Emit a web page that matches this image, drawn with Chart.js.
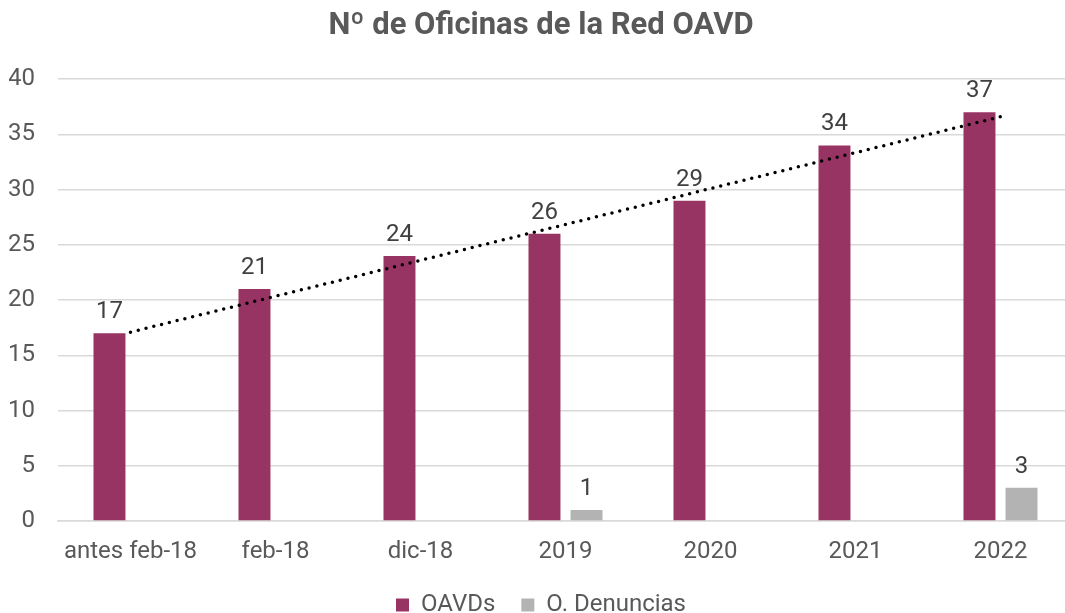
<!DOCTYPE html>
<html>
<head>
<meta charset="utf-8">
<script src="https://cdn.jsdelivr.net/npm/chart.js@4/dist/chart.umd.min.js"></script>
<style>
  html, body { margin: 0; padding: 0; background: #fff; overflow: hidden; }
  #wrap { width: 1073px; height: 613px; }
</style>
</head>
<body>
<div id="wrap"><canvas id="chart"></canvas></div>
<script>
const categories = ["antes feb-18", "feb-18", "dic-18", "2019", "2020", "2021", "2022"];
const oavds = [17, 21, 24, 26, 29, 34, 37];
const denuncias = [null, null, null, 1, null, null, 3];
// linea de tendencia (extremos)
const tendencia = [17.1, null, null, null, null, null, 36.6];

const textGrey = "#595959";

// etiquetas de valor encima de las barras
const valueLabels = {
  id: "valueLabels",
  afterDatasetsDraw(chart) {
    const ctx = chart.ctx;
    ctx.save();
    ctx.font = "24px Roboto";
    ctx.fillStyle = "#404040";
    ctx.textAlign = "center";
    ctx.textBaseline = "bottom";
    chart.data.datasets.forEach((ds, i) => {
      if (ds.type === "line") return;
      chart.getDatasetMeta(i).data.forEach((bar, j) => {
        const v = ds.data[j];
        if (v == null) return;
        ctx.fillText(v, bar.x, bar.y - 9);
      });
    });
    ctx.restore();
  }
};

new Chart(document.getElementById("chart"), {
  type: "bar",
  data: {
    labels: categories,
    datasets: [
      {
        type: "line",
        label: "Tendencia",
        data: tendencia,
        spanGaps: true,
        borderColor: "#000",
        borderWidth: 3.5,
        borderCapStyle: "round",
        borderDash: [0, 8],
        pointRadius: 0,
        fill: false,
        order: 0
      },
      {
        label: "OAVDs",
        data: oavds,
        backgroundColor: "#983464",
        order: 1
      },
      {
        label: "O. Denuncias",
        data: denuncias,
        backgroundColor: "#b3b3b3",
        order: 1
      }
    ]
  },
  options: {
    responsive: true,
    maintainAspectRatio: false,
    animation: false,
    layout: { padding: { left: 9, right: 0, top: 0, bottom: -14 } },
    datasets: {
      bar: { categoryPercentage: 0.58, barPercentage: 0.76 }
    },
    plugins: {
      title: {
        display: true,
        text: "Nº de Oficinas de la Red OAVD",
        color: textGrey,
        font: { family: "Roboto", size: 31, weight: "bold" },
        padding: { top: 8, bottom: 34 }
      },
      legend: {
        position: "bottom",
        labels: {
          color: textGrey,
          font: { family: "Roboto", size: 24 },
          boxWidth: 13,
          boxHeight: 13,
          padding: 26,
          filter: item => item.text !== "Tendencia"
        }
      },
      tooltip: { enabled: false }
    },
    scales: {
      x: {
        grid: { display: false, drawTicks: false },
        border: { color: "#d9d9d9", width: 1.5 },
        ticks: { color: textGrey, font: { family: "Roboto", size: 24 }, padding: 17 },
        afterFit(scale) {
          scale.height = 46;
        }
      },
      y: {
        min: 0,
        max: 40,
        ticks: { stepSize: 5, color: textGrey, font: { family: "Roboto", size: 24 }, padding: 23 },
        grid: { color: "#d9d9d9", lineWidth: 1.5, drawTicks: false },
        border: { display: false },
        afterFit(scale) {
          scale.width = 49;
        }
      }
    }
  },
  plugins: [valueLabels]
});
</script>
</body>
</html>
